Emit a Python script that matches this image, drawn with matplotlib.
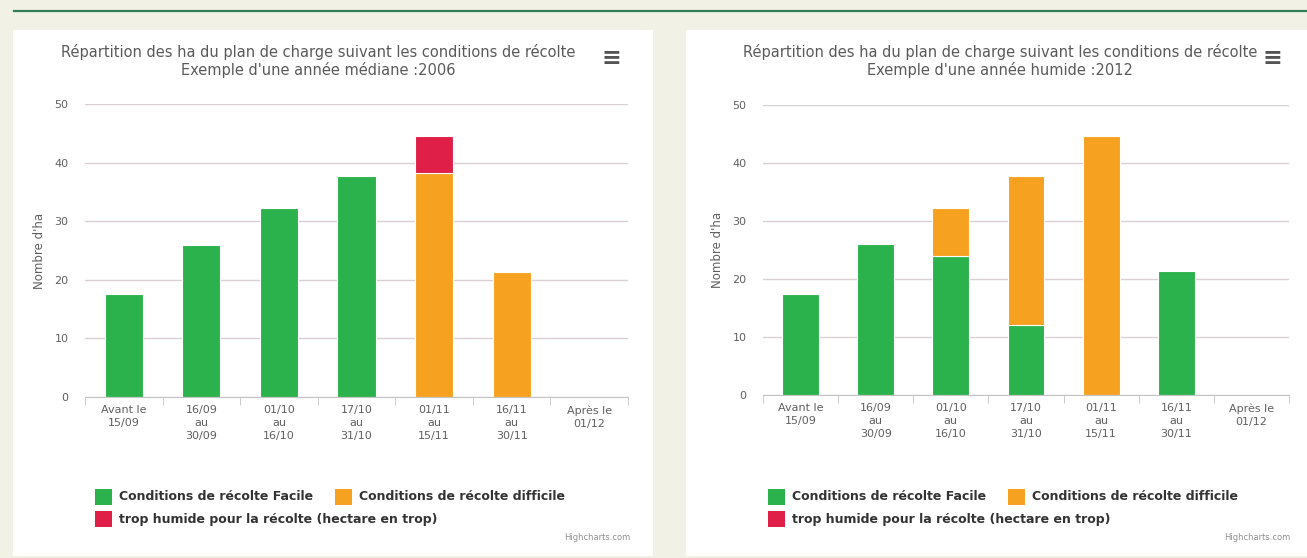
import numpy as np
import matplotlib
matplotlib.use("Agg")
import matplotlib.pyplot as plt
from matplotlib.patches import Rectangle
from matplotlib.lines import Line2D

# data
categories = ["Avant le\n15/09", "16/09\nau\n30/09", "01/10\nau\n16/10",
              "17/10\nau\n31/10", "01/11\nau\n15/11", "16/11\nau\n30/11",
              "Après le\n01/12"]
facile_2006 = [17.5, 26.0, 32.3, 37.7, 0, 0, 0]
difficile_2006 = [0, 0, 0, 0, 38.3, 21.3, 0]
humide_2006 = [0, 0, 0, 0, 6.2, 0, 0]
facile_2012 = [17.5, 26.0, 24.0, 12.0, 0, 21.3, 0]
difficile_2012 = [0, 0, 8.3, 25.7, 44.6, 0, 0]
humide_2012 = [0, 0, 0, 0, 0, 0, 0]
series_names = ["Conditions de récolte Facile", "Conditions de récolte difficile",
                "trop humide pour la récolte (hectare en trop)"]
title = "Répartition des ha du plan de charge suivant les conditions de récolte"
subtitles = ["Exemple d'une année médiane :2006", "Exemple d'une année humide :2012"]

GREEN = "#2bb24c"
ORANGE = "#f6a11f"
RED = "#df1f47"
colors = [GREEN, ORANGE, RED]

W, H = 1307, 558
fig = plt.figure(figsize=(W / 100, H / 100), dpi=100)
fig.patch.set_facecolor("#f1f1e5")

def fx(px):
    return px / W

def fy(py):
    return 1 - py / H

def box(px0, py0, px1, py1, col, z=0):
    # rectangle given in pixel corners (top-left origin)
    fig.add_artist(Rectangle((fx(px0), fy(py1)), fx(px1 - px0), fy(py0) - fy(py1),
                             transform=fig.transFigure, facecolor=col,
                             edgecolor="none", zorder=z))

# top green rule and white panels
fig.add_artist(Line2D([fx(14), 1], [fy(11), fy(11)], color="#2e7d5b", lw=1.6))
box(13, 30, 653, 556, "white")
box(686, 30, W, 556, "white")

panels = [
    dict(data=[facile_2006, difficile_2006, humide_2006], sub=subtitles[0],
         ax=(85, 628, 104, 397), cx=318, panel_x=13, credit_x=630),
    dict(data=[facile_2012, difficile_2012, humide_2012], sub=subtitles[1],
         ax=(763, 1289, 105, 395), cx=1000, panel_x=686, credit_x=1290),
]

x = np.arange(len(categories))
for p in panels:
    x0, x1, ytop, ybot = p["ax"]
    ax = fig.add_axes([fx(x0), fy(ybot), fx(x1 - x0), fy(ytop) - fy(ybot)])
    ax.set_facecolor("white")
    bottom = np.zeros(len(categories))
    for vals, col in zip(p["data"], colors):
        vals = np.array(vals, dtype=float)
        m = vals > 0
        ax.bar(x[m], vals[m], bottom=bottom[m], width=0.49, color=col,
               edgecolor="white", linewidth=0.8, zorder=3)
        bottom += vals
    ax.set_xlim(-0.5, len(categories) - 0.5)
    ax.set_ylim(0, 50)
    ax.set_yticks(range(0, 51, 10))
    ax.grid(axis="y", color="#d9d0cf", lw=1, zorder=0)
    for s in ["top", "right", "left"]:
        ax.spines[s].set_visible(False)
    ax.spines["bottom"].set_color("#c4c4c4")
    ax.spines["bottom"].set_zorder(4)
    ax.tick_params(axis="y", length=0, labelsize=8, labelcolor="#606060", pad=12)
    ax.set_xticks(x)
    ax.set_xticklabels(categories, fontsize=8, color="#606060", linespacing=1.35)
    ax.tick_params(axis="x", length=0, pad=6)
    ax.set_xticks(np.arange(-0.5, len(categories)), minor=True)
    ax.tick_params(axis="x", which="minor", length=6, color="#c4c4c4", direction="out")
    ax.set_ylabel("Nombre d'ha", fontsize=8.5, color="#606060", labelpad=6)

    # titles and menu icon
    fig.text(fx(p["cx"]), fy(52), title, ha="center", va="center", fontsize=10.5, color="#5a5a5a")
    fig.text(fx(p["cx"]), fy(70), p["sub"], ha="center", va="center", fontsize=10.5, color="#5a5a5a")
    fig.text(fx(x1 - 17), fy(58), "≡", ha="center", va="center", fontsize=17,
             fontweight="bold", color="#555555")

    # legend
    lx = p["panel_x"] + 82
    items = [(lx, 497), (lx + 240, 497), (lx, 519)]
    for (px, py), col, name in zip(items, colors, series_names):
        box(px, py - 8, px + 17, py + 8, col, z=2)
        fig.text(fx(px + 24), fy(py), name, ha="left", va="center", fontsize=9,
                 fontweight="bold", color="#333333")
    fig.text(fx(p["credit_x"]), fy(538), "Highcharts.com", ha="right", va="center",
             fontsize=6, color="#909090")

fig.savefig("out.png", dpi=100, facecolor=fig.get_facecolor())
